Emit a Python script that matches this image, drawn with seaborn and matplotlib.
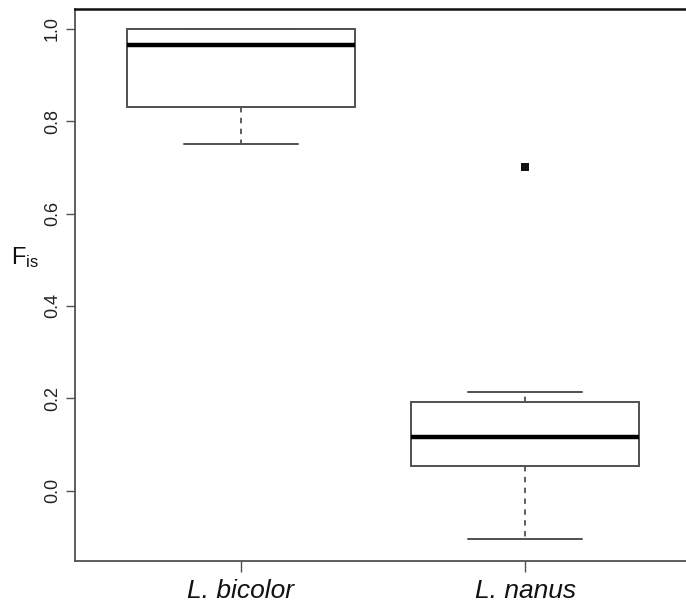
import matplotlib
matplotlib.use("Agg")
import matplotlib.pyplot as plt
import seaborn as sns
import pandas as pd

# Species on the x axis
species = ["L. bicolor", "L. nanus"]
# Five-number summaries: lower whisker, lower hinge, median, upper hinge, upper whisker
bicolor_summary = [0.75, 0.83, 0.965, 1.0, 1.0]
nanus_summary = [-0.105, 0.053, 0.117, 0.192, 0.213]
# Values beyond the whiskers
outlier_species = ["L. nanus"]
outlier_values = [0.70]
# Y axis ticks
yticks = [0.0, 0.2, 0.4, 0.6, 0.8, 1.0]
ytick_labels = ["0.0", "0.2", "0.4", "0.6", "0.8", "1.0"]

sns.set_style("ticks")
plt.rcParams["font.family"] = ["Liberation Sans", "DejaVu Sans"]
plt.rcParams["mathtext.fontset"] = "custom"
plt.rcParams["mathtext.rm"] = "Liberation Sans"

df = pd.DataFrame({
    "species": [species[0]] * len(bicolor_summary) + [species[1]] * len(nanus_summary),
    "Fis": bicolor_summary + nanus_summary,
})

W, H = 686, 603
fig = plt.figure(figsize=(W / 100, H / 100), dpi=100)
ax = fig.add_axes([75 / W, 42 / H, 616 / W, 552.5 / H])

edge = "#505050"
sns.boxplot(
    data=df, x="species", y="Fis", order=species, ax=ax,
    width=0.8, color="white", linecolor=edge, linewidth=1.4,
    showfliers=False,
    medianprops=dict(color="black", linewidth=3.2),
    whiskerprops=dict(color=edge, linewidth=1.3, linestyle=(0, (3, 3))),
    capprops=dict(color=edge, linewidth=1.4),
)
sns.stripplot(
    x=outlier_species, y=outlier_values, order=species, ax=ax,
    jitter=False, marker="s", size=5.5, color="#111111", linewidth=0,
)

ax.set_xlim(-0.581, 1.581)
ax.set_ylim(-0.152, 1.044)
ax.set_xlabel("")
ax.set_ylabel("")

ax.set_yticks(yticks, ytick_labels, rotation=90, va="center", fontsize=13)
ax.set_xticks(range(len(species)), species, fontsize=19, style="italic")
ax.tick_params(axis="y", length=6.5, width=1.0, color=edge, pad=3.6, labelcolor="#222222")
ax.tick_params(axis="x", length=8, width=1.0, color=edge, pad=5, labelcolor="#111111")

for side in ["left", "bottom"]:
    ax.spines[side].set_color(edge)
    ax.spines[side].set_linewidth(1.3)
ax.spines["top"].set_visible(True)
ax.spines["top"].set_color("#111111")
ax.spines["top"].set_linewidth(1.8)
ax.spines["right"].set_visible(True)

fig.text(11 / W, 1 - 258 / H, r"$\mathregular{F_{is}}$", fontsize=17,
         ha="left", va="center", color="#111111")

fig.savefig("out.png", dpi=100)
